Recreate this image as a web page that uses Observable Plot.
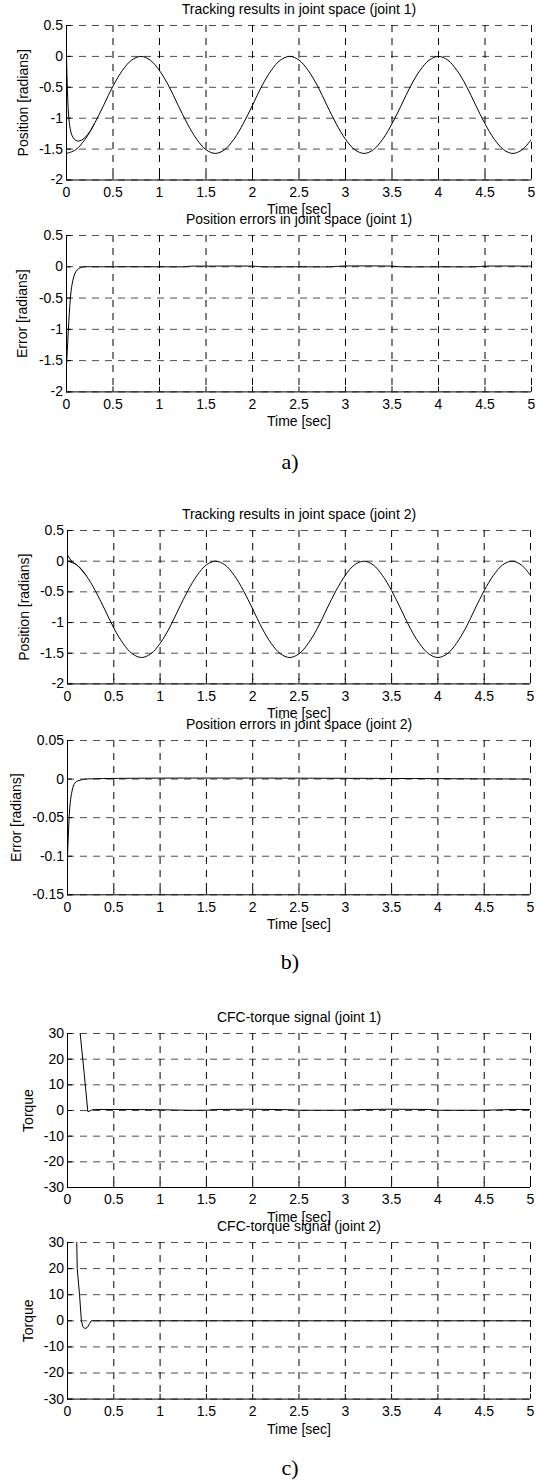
<!DOCTYPE html>
<html>
<head>
<meta charset="utf-8">
<script src="https://cdn.jsdelivr.net/npm/d3@7"></script>
<script src="https://cdn.jsdelivr.net/npm/@observablehq/plot@0.6"></script>
<style>
  body { margin: 0; background: #fff; }
  #page { position: relative; width: 537px; height: 1481px; overflow: hidden; background: #fff; }
  .panel { position: absolute; left: 0; }
  .cap { position: absolute; left: 0; width: 580px; text-align: center;
         font-family: "Liberation Serif", "Times New Roman", serif; font-size: 22px; line-height: 24px; color: #000; }
</style>
</head>
<body>
<div id="page"></div>
<script>
// ---------- tick labels ----------
const xTicks = [0, 0.5, 1, 1.5, 2, 2.5, 3, 3.5, 4, 4.5, 5];
const posTicks = [-2, -1.5, -1, -0.5, 0, 0.5];
const err2Ticks = [-0.15, -0.1, -0.05, 0, 0.05];
const torqueTicks = [-30, -20, -10, 0, 10, 20, 30];

// ---------- time grid (sec) ----------
const tGrid = [0,0.1,0.2,0.3,0.4,0.5,0.6,0.7,0.8,0.9,1,1.1,1.2,1.3,1.4,1.5,1.6,1.7,1.8,1.9,2,
  2.1,2.2,2.3,2.4,2.5,2.6,2.7,2.8,2.9,3,3.1,3.2,3.3,3.4,3.5,3.6,3.7,3.8,3.9,4,
  4.1,4.2,4.3,4.4,4.5,4.6,4.7,4.8,4.9,5];

// ---------- joint 1 position ----------
const desired1 = [-1.57,-1.51,-1.34,-1.09,-0.79,-0.48,-0.23,-0.06,0.00,-0.06,-0.23,-0.48,-0.79,-1.09,-1.34,-1.51,
  -1.57,-1.51,-1.34,-1.09,-0.79,-0.48,-0.23,-0.06,0.00,-0.06,-0.23,-0.48,-0.79,-1.09,-1.34,-1.51,
  -1.57,-1.51,-1.34,-1.09,-0.79,-0.48,-0.23,-0.06,0.00,-0.06,-0.23,-0.48,-0.79,-1.09,-1.34,-1.51,
  -1.57,-1.51,-1.34];
const actual1T = [0,0.005,0.01,0.015,0.02,0.03,0.04,0.05,0.07,0.1,0.13,0.16,0.2,0.25,0.3];
const actual1 = [0,-0.3,-0.55,-0.75,-0.9,-1.07,-1.17,-1.24,-1.31,-1.36,-1.37,-1.355,-1.31,-1.22,-1.09];

// ---------- joint 1 error ----------
const err1T = [0,0.005,0.01,0.02,0.03,0.04,0.05,0.06,0.08,0.1,0.13,0.16,0.2,0.3,0.6,1.0,1.25,1.35,1.5,2.0,2.1,2.5,2.85,2.95,3.5,3.6,4.0,4.4,4.5,5.0];
const err1 = [-1.57,-1.45,-1.3,-1.0,-0.75,-0.53,-0.38,-0.28,-0.15,-0.08,-0.03,-0.01,0,0,0,0,0,0.01,0.01,0.01,0,0,0,0.01,0.01,0,0,0,0.01,0.01];

// ---------- joint 2 position ----------
const desired2 = [0,-0.06,-0.23,-0.48,-0.78,-1.09,-1.34,-1.51,-1.57,-1.51,-1.34,-1.09,-0.78,-0.48,-0.23,-0.06,
  0,-0.06,-0.23,-0.48,-0.78,-1.09,-1.34,-1.51,-1.57,-1.51,-1.34,-1.09,-0.78,-0.48,-0.23,-0.06,
  0,-0.06,-0.23,-0.48,-0.78,-1.09,-1.34,-1.51,-1.57,-1.51,-1.34,-1.09,-0.78,-0.48,-0.23,-0.06,
  0,-0.06,-0.23];
const actual2T = [0,0.02,0.04,0.07,0.1,0.15,0.2];
const actual2 = [0.1,0.05,0.01,-0.03,-0.06,-0.14,-0.23];

// ---------- joint 2 error ----------
const err2T = [0,0.01,0.02,0.03,0.05,0.07,0.1,0.15,0.2,5];
const err2 = [-0.1,-0.07,-0.045,-0.03,-0.015,-0.007,-0.003,-0.001,0,0];

// ---------- torques ----------
const torque1T = [0,0.05,0.1,0.137,0.18,0.22,0.24,0.27,0.3,0.6,1.0,1.3,1.5,1.6,2.0,2.4,2.5,3.0,3.2,3.5,3.9,4.0,4.5,4.8,5.0];
const torque1 = [95,77,44,30,14.5,-0.5,-0.2,0.3,0.4,0.4,0.3,0.1,0.1,0.4,0.5,0.3,0.1,0.1,0.4,0.5,0.4,0.1,0.1,0.4,0.4];
const torque2T = [0,0.05,0.09,0.1,0.105,0.13,0.15,0.165,0.19,0.215,0.24,0.255,0.3,5];
const torque2 = [80,60,40,30,20,10,0,-2.2,-3,-2.5,-1,0,0,0];

// ---------- titles ----------
const titles = [
  "Tracking results in joint space (joint 1)",
  "Position errors in joint space (joint 1)",
  "Tracking results in joint space (joint 2)",
  "Position errors in joint space (joint 2)",
  "CFC-torque signal (joint 1)",
  "CFC-torque signal (joint 2)"
];
const xLabel = "Time [sec]";
const captions = ["a)", "b)", "c)"];

const zip = (ts, vs) => ts.map((t, i) => ({t, v: vs[i]}));
const fmt = d => String(d);
const FONT = '"Liberation Sans", Arial, Helvetica, sans-serif';

function panel(o) {
  const mt = 30, mb = 45;
  const areaW = o.right - o.left;
  const height = mt + o.areaH + mb;
  const yMin = o.yDomain[0];
  const marks = [
    Plot.ruleY(o.yTicks, {stroke: "#000", strokeOpacity: 0.7, strokeWidth: 1, strokeDasharray: "7,6"}),
    Plot.ruleX(xTicks, {stroke: "#000", strokeWidth: 1, strokeDasharray: "7,6"}),
    Plot.ruleX([0], {stroke: "#000", strokeWidth: 1}),
    Plot.ruleY([yMin], {stroke: "#000", strokeWidth: 1}),
    Plot.tickX(xTicks, {x: d => d, stroke: "#000", insetTop: o.areaH - 5}),
    Plot.tickY(o.yTicks, {y: d => d, stroke: "#000", insetRight: areaW - 5}),
    ...o.series.map(s => Plot.line(s.data, {x: "t", y: "v", stroke: "#000", strokeWidth: 1, curve: s.curve || "linear", clip: true})),
    Plot.text([o.title], {frameAnchor: "top", dy: -16, lineAnchor: "middle", fontSize: 14, fill: "#000"}),
    Plot.text([xLabel], {frameAnchor: "bottom", dy: 30, lineAnchor: "middle", fontSize: 14, fill: "#000"}),
    Plot.text([o.ylabel], {frameAnchor: "left", dx: -(o.left - o.ylabelX), rotate: -90, textAnchor: "middle", lineAnchor: "middle", fontSize: 14, fill: "#000"})
  ];
  const svg = Plot.plot({
    width: 537,
    height,
    marginTop: mt, marginBottom: mb, marginLeft: o.left, marginRight: 537 - o.right,
    style: {fontFamily: FONT, fontSize: "14px", color: "#000", background: "transparent", overflow: "visible"},
    x: {domain: [0, 5], ticks: xTicks, tickFormat: fmt, tickSize: 0, tickPadding: 7, label: null},
    y: {domain: o.yDomain, ticks: o.yTicks, tickFormat: fmt, tickSize: 0, tickPadding: 3.5, label: null},
    marks
  });
  svg.classList.add("panel");
  svg.style.top = (o.top - mt) + "px";
  document.getElementById("page").appendChild(svg);
}

panel({top: 24.5, areaH: 154.5, left: 66, right: 531, yDomain: [-2, 0.5], yTicks: posTicks,
  title: titles[0], ylabel: "Position [radians]", ylabelX: 23,
  series: [{data: zip(tGrid, desired1), curve: "catmull-rom"}, {data: zip(actual1T, actual1), curve: "catmull-rom"}]});
panel({top: 235.3, areaH: 156.4, left: 66, right: 531, yDomain: [-2, 0.5], yTicks: posTicks,
  title: titles[1], ylabel: "Error [radians]", ylabelX: 22,
  series: [{data: zip(err1T, err1), curve: "catmull-rom"}]});
panel({top: 530.3, areaH: 153.4, left: 67, right: 530, yDomain: [-2, 0.5], yTicks: posTicks,
  title: titles[2], ylabel: "Position [radians]", ylabelX: 24,
  series: [{data: zip(tGrid, desired2), curve: "catmull-rom"}, {data: zip(actual2T, actual2), curve: "catmull-rom"}]});
panel({top: 740, areaH: 154.3, left: 67, right: 530, yDomain: [-0.15, 0.05], yTicks: err2Ticks,
  title: titles[3], ylabel: "Error [radians]", ylabelX: 16,
  series: [{data: zip(err2T, err2), curve: "catmull-rom"}]});
panel({top: 1033, areaH: 154, left: 67, right: 530, yDomain: [-30, 30], yTicks: torqueTicks,
  title: titles[4], ylabel: "Torque", ylabelX: 28,
  series: [{data: zip(torque1T, torque1)}]});
panel({top: 1241.7, areaH: 156.6, left: 67, right: 530, yDomain: [-30, 30], yTicks: torqueTicks,
  title: titles[5], ylabel: "Torque", ylabelX: 28,
  series: [{data: zip(torque2T, torque2)}]});

const capY = [461.7, 961.7, 1468];
captions.forEach((c, i) => {
  const d = document.createElement("div");
  d.className = "cap";
  d.textContent = c;
  d.style.top = (capY[i] - 12) + "px";
  document.getElementById("page").appendChild(d);
});
</script>
</body>
</html>
